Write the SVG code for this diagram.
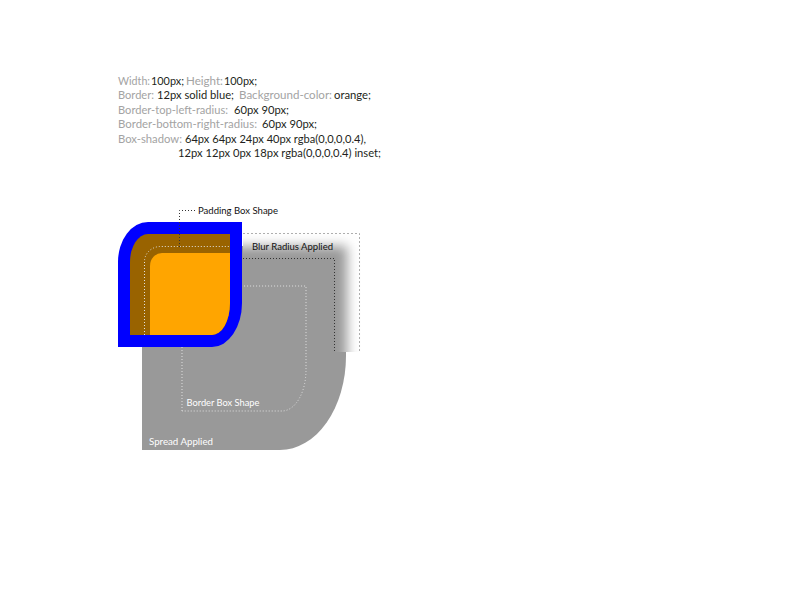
<svg xmlns="http://www.w3.org/2000/svg" width="800" height="600" viewBox="0 0 800 600">
<style>
.t{font-family:"Lato","Open Sans","Liberation Sans",sans-serif;font-size:11px}
.k{fill:#a3a3a3}
.v{fill:#231f20}
.lbl{font-family:"Lato","Open Sans","Liberation Sans",sans-serif;font-size:9.5px}
.dotw{fill:none;stroke:#e0e0e0;stroke-width:1;stroke-dasharray:1 2}
.dotk{fill:none;stroke:#333;stroke-width:1;stroke-dasharray:1 2}
.dashg{fill:none;stroke:#999;stroke-width:0.8;stroke-dasharray:2 2}
</style>
<defs>
<filter id="blur" filterUnits="userSpaceOnUse" x="80" y="180" width="340" height="340">
<feGaussianBlur stdDeviation="6"/>
</filter>
<clipPath id="clipBlur"><rect x="243" y="220" width="140" height="132"/></clipPath>
<clipPath id="clipSolid"><rect x="0" y="352" width="800" height="248"/><rect x="0" y="0" width="243" height="600"/></clipPath>
</defs>
<rect width="800" height="600" fill="#fff"/>

<g id="css-text">
<text class="t" y="84.5"><tspan class="k" x="118" textLength="32" lengthAdjust="spacingAndGlyphs">Width:</tspan><tspan class="v" x="151" textLength="33" lengthAdjust="spacingAndGlyphs">100px;</tspan><tspan class="k" x="186" textLength="37" lengthAdjust="spacingAndGlyphs">Height:</tspan><tspan class="v" x="224" textLength="33" lengthAdjust="spacingAndGlyphs">100px;</tspan></text>
<text class="t" y="99"><tspan class="k" x="118" textLength="36" lengthAdjust="spacingAndGlyphs">Border:</tspan><tspan class="v" x="157" textLength="77" lengthAdjust="spacingAndGlyphs">12px solid blue;</tspan><tspan class="k" x="239" textLength="93" lengthAdjust="spacingAndGlyphs">Background-color:</tspan><tspan class="v" x="334" textLength="37" lengthAdjust="spacingAndGlyphs">orange;</tspan></text>
<text class="t" y="113.5"><tspan class="k" x="118" textLength="110" lengthAdjust="spacingAndGlyphs">Border-top-left-radius:</tspan><tspan class="v" x="234" textLength="55" lengthAdjust="spacingAndGlyphs">60px 90px;</tspan></text>
<text class="t" y="128"><tspan class="k" x="118" textLength="139" lengthAdjust="spacingAndGlyphs">Border-bottom-right-radius:</tspan><tspan class="v" x="262" textLength="55" lengthAdjust="spacingAndGlyphs">60px 90px;</tspan></text>
<text class="t" y="142.5"><tspan class="k" x="118" textLength="64" lengthAdjust="spacingAndGlyphs">Box-shadow:</tspan><tspan class="v" x="185" textLength="181" lengthAdjust="spacingAndGlyphs">64px 64px 24px 40px rgba(0,0,0,0.4),</tspan></text>
<text class="t" y="157"><tspan class="v" x="178" textLength="203" lengthAdjust="spacingAndGlyphs">12px 12px 0px 18px rgba(0,0,0,0.4) inset;</tspan></text>
</g>

<g id="shadow">
<g clip-path="url(#clipBlur)"><rect x="142" y="246" width="205" height="210" fill="#999" filter="url(#blur)"/></g>
<path clip-path="url(#clipSolid)" d="M142 246 H346 V356 A66 94 0 0 1 280 450 H142 Z" fill="#999"/>
</g>

<g id="connectors">
<path class="dashg" d="M243 233.5 H359.5 V352"/>
<path class="dotk" d="M243 258.5 H334.5 V352"/>
<path class="dotw" d="M182 411 V310 A22 24 0 0 1 204 286 H306 V370 A24 41 0 0 1 282 411 Z"/>
</g>

<g id="box">
<path d="M118 262 A30 40 0 0 1 148 222 H242 V303 A30 44 0 0 1 212 347 H118 Z" fill="#0000ff"/>
<path d="M130 262 A18 28 0 0 1 148 234 H230 V303 A18 32 0 0 1 212 335 H130 Z" fill="#996300"/>
<path d="M150 266 A12 13 0 0 1 162 253 H230 V303 A18 32 0 0 1 212 335 H150 Z" fill="#ffa500"/>
<path class="dotw" d="M144.5 335 V262 A16 15 0 0 1 160 246.5 H230"/>
</g>

<g id="padding-label">
<path class="dotk" d="M179.5 247 V210.5 H195"/>
<text class="lbl" x="198" y="214" fill="#111" textLength="80" lengthAdjust="spacingAndGlyphs">Padding Box Shape</text>
</g>
<g id="blur-label">
<text class="lbl" x="252" y="249.5" fill="#111" textLength="81" lengthAdjust="spacingAndGlyphs">Blur Radius Applied</text>
</g>
<g id="border-label">
<text class="lbl" x="186.5" y="406" fill="#fff" textLength="73" lengthAdjust="spacingAndGlyphs">Border Box Shape</text>
</g>
<g id="spread-label">
<text class="lbl" x="149" y="445" fill="#fff" textLength="64" lengthAdjust="spacingAndGlyphs">Spread Applied</text>
</g>
</svg>
